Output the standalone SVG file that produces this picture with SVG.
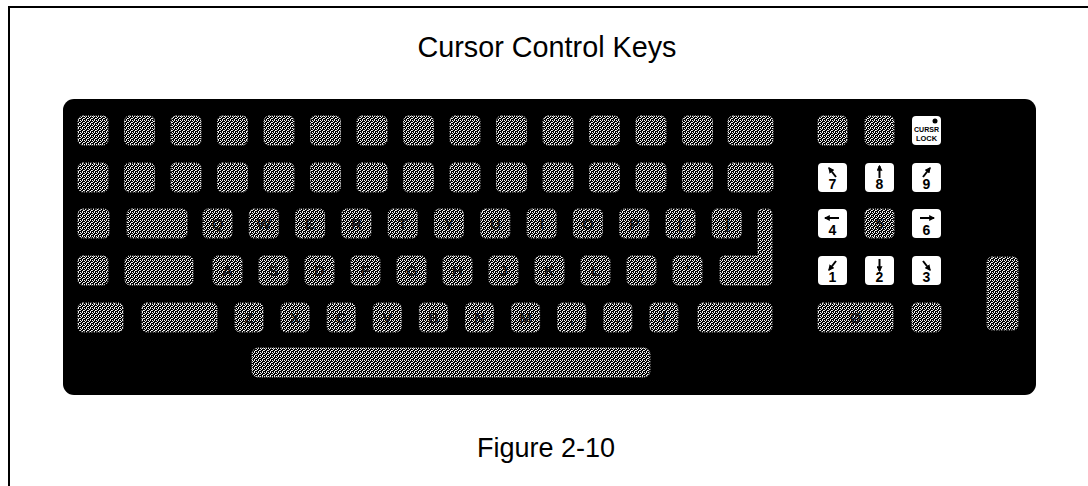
<svg xmlns="http://www.w3.org/2000/svg" width="1088" height="486" viewBox="0 0 1088 486">
<defs>
<pattern id="stip" width="4" height="4" patternUnits="userSpaceOnUse">
<rect width="4" height="4" fill="#000"/>
<rect x="0" y="0" width="1" height="1" fill="#fff"/>
<rect x="2" y="0" width="1" height="1" fill="#eee"/>
<rect x="1" y="1" width="1" height="1" fill="#fff"/>
<rect x="3" y="2" width="1" height="1" fill="#fff"/>
<rect x="0" y="2" width="1" height="1" fill="#ddd"/>
<rect x="2" y="3" width="1" height="1" fill="#fff"/>
</pattern>
<marker id="ah" viewBox="0 0 10 10" refX="8" refY="5" markerWidth="3" markerHeight="3" orient="auto" markerUnits="strokeWidth">
<path d="M0,0 L10,5 L0,10 Z" fill="#000"/>
</marker>
</defs>
<style>
.frame{stroke:#000;stroke-width:2;fill:none}
.board{fill:#000}
.s{fill:url(#stip);stroke:#d8d8d8;stroke-width:1;stroke-dasharray:1 1.5}
.w{fill:#fff;stroke:none}
.sl{font-family:"Liberation Sans",Arial,sans-serif;font-weight:bold;font-size:15px;fill:#000;fill-opacity:0.75;text-anchor:middle}
.d{font-family:"Liberation Sans",Arial,sans-serif;font-weight:bold;font-size:14px;fill:#000;text-anchor:middle}
.cl{font-family:"Liberation Sans",Arial,sans-serif;font-weight:bold;font-size:7px;fill:#000;text-anchor:middle}
.ar{stroke:#000;stroke-width:2;fill:none;marker-end:url(#ah)}
.title{font-family:"Liberation Sans",Arial,sans-serif;font-size:29px;fill:#000;text-anchor:middle}
.cap{font-family:"Liberation Sans",Arial,sans-serif;font-size:27px;fill:#000;text-anchor:middle}
</style>
<rect width="1088" height="486" fill="#fff"/>
<g id="frame">
<line class="frame" x1="8" y1="7" x2="1088" y2="7"/>
<line class="frame" x1="9" y1="6" x2="9" y2="486"/>
</g>
<g id="title"><text class="title" x="547" y="57" textLength="259" lengthAdjust="spacingAndGlyphs">Cursor Control Keys</text></g>
<g id="keyboard"><rect class="board" x="63" y="99" width="973" height="296" rx="11"/></g>
<g id="connectors"></g>
<g id="row1">
<g id="r1k0"><rect class="s" x="78" y="116" width="30" height="29" rx="5"/></g>
<g id="r1k1"><rect class="s" x="124.5" y="116" width="30" height="29" rx="5"/></g>
<g id="r1k2"><rect class="s" x="171" y="116" width="30" height="29" rx="5"/></g>
<g id="r1k3"><rect class="s" x="217.5" y="116" width="30" height="29" rx="5"/></g>
<g id="r1k4"><rect class="s" x="264" y="116" width="30" height="29" rx="5"/></g>
<g id="r1k5"><rect class="s" x="310.5" y="116" width="30" height="29" rx="5"/></g>
<g id="r1k6"><rect class="s" x="357" y="116" width="30" height="29" rx="5"/></g>
<g id="r1k7"><rect class="s" x="403.5" y="116" width="30" height="29" rx="5"/></g>
<g id="r1k8"><rect class="s" x="450" y="116" width="30" height="29" rx="5"/></g>
<g id="r1k9"><rect class="s" x="496.5" y="116" width="30" height="29" rx="5"/></g>
<g id="r1k10"><rect class="s" x="543" y="116" width="30" height="29" rx="5"/></g>
<g id="r1k11"><rect class="s" x="589.5" y="116" width="30" height="29" rx="5"/></g>
<g id="r1k12"><rect class="s" x="636" y="116" width="30" height="29" rx="5"/></g>
<g id="r1k13"><rect class="s" x="682.5" y="116" width="30" height="29" rx="5"/></g>
<g id="r1k14"><rect class="s" x="728" y="116" width="45" height="29" rx="5"/></g>
</g>
<g id="row2">
<g id="r2k0"><rect class="s" x="78" y="163" width="30" height="29" rx="5"/></g>
<g id="r2k1"><rect class="s" x="124.5" y="163" width="30" height="29" rx="5"/></g>
<g id="r2k2"><rect class="s" x="171" y="163" width="30" height="29" rx="5"/></g>
<g id="r2k3"><rect class="s" x="217.5" y="163" width="30" height="29" rx="5"/></g>
<g id="r2k4"><rect class="s" x="264" y="163" width="30" height="29" rx="5"/></g>
<g id="r2k5"><rect class="s" x="310.5" y="163" width="30" height="29" rx="5"/></g>
<g id="r2k6"><rect class="s" x="357" y="163" width="30" height="29" rx="5"/></g>
<g id="r2k7"><rect class="s" x="403.5" y="163" width="30" height="29" rx="5"/></g>
<g id="r2k8"><rect class="s" x="450" y="163" width="30" height="29" rx="5"/></g>
<g id="r2k9"><rect class="s" x="496.5" y="163" width="30" height="29" rx="5"/></g>
<g id="r2k10"><rect class="s" x="543" y="163" width="30" height="29" rx="5"/></g>
<g id="r2k11"><rect class="s" x="589.5" y="163" width="30" height="29" rx="5"/></g>
<g id="r2k12"><rect class="s" x="636" y="163" width="30" height="29" rx="5"/></g>
<g id="r2k13"><rect class="s" x="682.5" y="163" width="30" height="29" rx="5"/></g>
<g id="r2k14"><rect class="s" x="728" y="163" width="45" height="29" rx="5"/></g>
</g>
<g id="row3">
<g id="r3k0"><rect class="s" x="78" y="209" width="31" height="29" rx="5"/></g>
<g id="r3tab"><rect class="s" x="127" y="209" width="60" height="29" rx="5"/></g>
<g id="kQ"><rect class="s" x="203" y="209" width="29" height="29" rx="5"/><text class="sl" x="217.5" y="229">Q</text></g>
<g id="kW"><rect class="s" x="249.3" y="209" width="29" height="29" rx="5"/><text class="sl" x="263.8" y="229">W</text></g>
<g id="kE"><rect class="s" x="295.6" y="209" width="29" height="29" rx="5"/><text class="sl" x="310.1" y="229">E</text></g>
<g id="kR"><rect class="s" x="341.9" y="209" width="29" height="29" rx="5"/><text class="sl" x="356.4" y="229">R</text></g>
<g id="kT"><rect class="s" x="388.2" y="209" width="29" height="29" rx="5"/><text class="sl" x="402.7" y="229">T</text></g>
<g id="kY"><rect class="s" x="434.5" y="209" width="29" height="29" rx="5"/><text class="sl" x="449" y="229">Y</text></g>
<g id="kU"><rect class="s" x="480.8" y="209" width="29" height="29" rx="5"/><text class="sl" x="495.3" y="229">U</text></g>
<g id="kI"><rect class="s" x="527.1" y="209" width="29" height="29" rx="5"/><text class="sl" x="541.6" y="229">I</text></g>
<g id="kO"><rect class="s" x="573.4" y="209" width="29" height="29" rx="5"/><text class="sl" x="587.9" y="229">O</text></g>
<g id="kP"><rect class="s" x="619.7" y="209" width="29" height="29" rx="5"/><text class="sl" x="634.2" y="229">P</text></g>
<g id="kLB"><rect class="s" x="666" y="209" width="29" height="29" rx="5"/><text class="sl" x="680.5" y="229">[</text></g>
<g id="kRB"><rect class="s" x="712.3" y="209" width="29" height="29" rx="5"/><text class="sl" x="726.8" y="229">]</text></g>
</g>
<g id="row4">
<g id="r4k0"><rect class="s" x="78" y="256" width="30" height="29" rx="5"/></g>
<g id="r4caps"><rect class="s" x="125" y="256" width="68" height="29" rx="5"/></g>
<g id="kA"><rect class="s" x="213" y="256" width="29" height="29" rx="5"/><text class="sl" x="227.5" y="276">A</text></g>
<g id="kS"><rect class="s" x="259" y="256" width="29" height="29" rx="5"/><text class="sl" x="273.5" y="276">S</text></g>
<g id="kD"><rect class="s" x="305" y="256" width="29" height="29" rx="5"/><text class="sl" x="319.5" y="276">D</text></g>
<g id="kF"><rect class="s" x="351" y="256" width="29" height="29" rx="5"/><text class="sl" x="365.5" y="276">F</text></g>
<g id="kG"><rect class="s" x="397" y="256" width="29" height="29" rx="5"/><text class="sl" x="411.5" y="276">G</text></g>
<g id="kH"><rect class="s" x="443" y="256" width="29" height="29" rx="5"/><text class="sl" x="457.5" y="276">H</text></g>
<g id="kJ"><rect class="s" x="489" y="256" width="29" height="29" rx="5"/><text class="sl" x="503.5" y="276">J</text></g>
<g id="kK"><rect class="s" x="535" y="256" width="29" height="29" rx="5"/><text class="sl" x="549.5" y="276">K</text></g>
<g id="kL"><rect class="s" x="581" y="256" width="29" height="29" rx="5"/><text class="sl" x="595.5" y="276">L</text></g>
<g id="kSemi"><rect class="s" x="627" y="256" width="29" height="29" rx="5"/><text class="sl" x="641.5" y="276">;</text></g>
<g id="kQuote"><rect class="s" x="673" y="256" width="29" height="29" rx="5"/><text class="sl" x="687.5" y="276">'</text></g>
<g id="kReturn"><path class="s" d="M725,256 H758 V214 Q758,209 763,209 H767 Q772,209 772,214 V280 Q772,285 767,285 H725 Q720,285 720,280 V261 Q720,256 725,256 Z"/></g>
</g>
<g id="row5">
<g id="r5k0"><rect class="s" x="78" y="303" width="45" height="29" rx="5"/></g>
<g id="r5shiftL"><rect class="s" x="142" y="303" width="75" height="29" rx="5"/></g>
<g id="kZ"><rect class="s" x="235" y="303" width="28" height="29" rx="5"/><text class="sl" x="249" y="323">Z</text></g>
<g id="kX"><rect class="s" x="281.1" y="303" width="28" height="29" rx="5"/><text class="sl" x="295.1" y="323">X</text></g>
<g id="kC"><rect class="s" x="327.2" y="303" width="28" height="29" rx="5"/><text class="sl" x="341.2" y="323">C</text></g>
<g id="kV"><rect class="s" x="373.3" y="303" width="28" height="29" rx="5"/><text class="sl" x="387.3" y="323">V</text></g>
<g id="kB"><rect class="s" x="419.4" y="303" width="28" height="29" rx="5"/><text class="sl" x="433.4" y="323">B</text></g>
<g id="kN"><rect class="s" x="465.5" y="303" width="28" height="29" rx="5"/><text class="sl" x="479.5" y="323">N</text></g>
<g id="kM"><rect class="s" x="511.6" y="303" width="28" height="29" rx="5"/><text class="sl" x="525.6" y="323">M</text></g>
<g id="kComma"><rect class="s" x="557.7" y="303" width="28" height="29" rx="5"/><text class="sl" x="571.7" y="323">,</text></g>
<g id="kPeriod"><rect class="s" x="603.8" y="303" width="28" height="29" rx="5"/><text class="sl" x="617.8" y="323">.</text></g>
<g id="kSlash"><rect class="s" x="649.9" y="303" width="28" height="29" rx="5"/><text class="sl" x="663.9" y="323">/</text></g>
<g id="r5shiftR"><rect class="s" x="698" y="303" width="74" height="29" rx="5"/></g>
</g>
<g id="spacebar"><rect class="s" x="252" y="348" width="398" height="29" rx="6"/></g>
<g id="keypad">
<g id="kp1a"><rect class="s" x="818" y="116" width="29" height="29" rx="5"/></g>
<g id="kp1b"><rect class="s" x="865" y="116" width="29" height="29" rx="5"/></g>
<g id="kpLock"><rect class="w" x="912" y="116" width="29" height="29" rx="4"/><circle cx="935" cy="121" r="2.5" fill="#000"/><text class="cl" x="926.5" y="132" textLength="25" lengthAdjust="spacingAndGlyphs">CURSR</text><text class="cl" x="926.5" y="141" textLength="21" lengthAdjust="spacingAndGlyphs">LOCK</text></g>
<g id="kp7"><rect class="w" x="818" y="163" width="29" height="29" rx="4"/><line class="ar" x1="836" y1="177" x2="829" y2="168"/><text class="d" x="832.5" y="189">7</text></g>
<g id="kp8"><rect class="w" x="865" y="163" width="29" height="29" rx="4"/><line class="ar" x1="879.5" y1="178" x2="879.5" y2="166"/><text class="d" x="879.5" y="189">8</text></g>
<g id="kp9"><rect class="w" x="912" y="163" width="29" height="29" rx="4"/><line class="ar" x1="923" y1="177" x2="930" y2="168"/><text class="d" x="926.5" y="189">9</text></g>
<g id="kp4"><rect class="w" x="818" y="209" width="29" height="29" rx="4"/><line class="ar" x1="839" y1="218" x2="825" y2="218"/><text class="d" x="832.5" y="235">4</text></g>
<g id="kp5"><rect class="s" x="865" y="209" width="29" height="29" rx="5"/><text class="sl" x="879.5" y="229">5</text></g>
<g id="kp6"><rect class="w" x="912" y="209" width="29" height="29" rx="4"/><line class="ar" x1="920" y1="218" x2="934" y2="218"/><text class="d" x="926.5" y="235">6</text></g>
<g id="kp1"><rect class="w" x="818" y="256" width="29" height="29" rx="4"/><line class="ar" x1="836" y1="261" x2="829" y2="270"/><text class="d" x="832.5" y="282">1</text></g>
<g id="kp2"><rect class="w" x="865" y="256" width="29" height="29" rx="4"/><line class="ar" x1="879.5" y1="259" x2="879.5" y2="271"/><text class="d" x="879.5" y="282">2</text></g>
<g id="kp3"><rect class="w" x="912" y="256" width="29" height="29" rx="4"/><line class="ar" x1="923" y1="261" x2="930" y2="270"/><text class="d" x="926.5" y="282">3</text></g>
<g id="kp0"><rect class="s" x="818" y="303" width="75" height="29" rx="5"/><text class="sl" x="855.5" y="323">Ø</text></g>
<g id="kpDot"><rect class="s" x="912" y="303" width="29" height="29" rx="5"/></g>
<g id="kpEnter"><rect class="s" x="987" y="257" width="31" height="73" rx="5"/></g>
</g>
<g id="caption"><text class="cap" x="546" y="457">Figure 2-10</text></g>
</svg>
